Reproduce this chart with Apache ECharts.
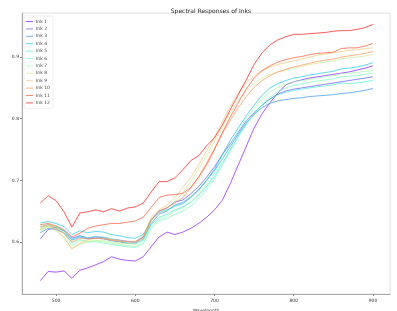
<!DOCTYPE html>
<html>
<head>
<meta charset="utf-8">
<script src="https://cdn.jsdelivr.net/npm/echarts@6/dist/echarts.min.js"></script>
<style>
  html, body { margin: 0; padding: 0; background: #fff; }
  #chart { width: 397px; height: 311px; }
</style>
</head>
<body>
<div id="chart"></div>
<script>
// wavelengths (nm)
var wavelengths = [480, 490, 500, 510, 520, 530, 540, 550, 560, 570, 580, 590, 600, 610, 620, 630, 640, 650, 660, 670, 680,
  690, 700, 710, 720, 730, 740, 750, 760, 770, 780, 790, 800, 810, 820, 830, 840, 850, 860, 870, 880, 890, 900];

var ink1 = [0.537, 0.552, 0.551, 0.553, 0.541, 0.554, 0.558, 0.563, 0.568, 0.576, 0.572, 0.570, 0.569, 0.576, 0.592, 0.608, 0.616, 0.612, 0.616, 0.622, 0.630,
  0.640, 0.652, 0.668, 0.695, 0.725, 0.755, 0.785, 0.808, 0.826, 0.842, 0.855, 0.860, 0.863, 0.866, 0.868, 0.870, 0.872, 0.874, 0.876, 0.879, 0.882, 0.886];
var ink2 = [0.605, 0.620, 0.624, 0.618, 0.606, 0.610, 0.606, 0.608, 0.607, 0.604, 0.603, 0.601, 0.600, 0.608, 0.636, 0.650, 0.655, 0.665, 0.668, 0.678, 0.690,
  0.705, 0.722, 0.742, 0.760, 0.778, 0.796, 0.810, 0.822, 0.832, 0.840, 0.845, 0.848, 0.850, 0.852, 0.854, 0.856, 0.858, 0.860, 0.862, 0.864, 0.866, 0.868];
var ink3 = [0.615, 0.622, 0.620, 0.615, 0.603, 0.608, 0.605, 0.606, 0.605, 0.602, 0.600, 0.598, 0.598, 0.605, 0.630, 0.645, 0.650, 0.660, 0.664, 0.673, 0.685,
  0.700, 0.716, 0.735, 0.755, 0.775, 0.793, 0.807, 0.818, 0.825, 0.829, 0.831, 0.833, 0.834, 0.836, 0.837, 0.838, 0.839, 0.841, 0.842, 0.844, 0.846, 0.849];
var ink4 = [0.631, 0.633, 0.630, 0.625, 0.612, 0.618, 0.615, 0.617, 0.616, 0.612, 0.610, 0.607, 0.606, 0.612, 0.635, 0.648, 0.652, 0.658, 0.662, 0.672, 0.684,
  0.700, 0.718, 0.742, 0.765, 0.785, 0.805, 0.822, 0.838, 0.850, 0.857, 0.862, 0.866, 0.868, 0.871, 0.873, 0.875, 0.877, 0.881, 0.882, 0.884, 0.887, 0.891];
var ink5 = [0.625, 0.628, 0.624, 0.618, 0.604, 0.610, 0.607, 0.609, 0.608, 0.605, 0.602, 0.598, 0.597, 0.603, 0.628, 0.640, 0.645, 0.652, 0.657, 0.665, 0.676,
  0.690, 0.707, 0.728, 0.750, 0.772, 0.792, 0.808, 0.822, 0.832, 0.839, 0.843, 0.846, 0.848, 0.850, 0.852, 0.853, 0.855, 0.858, 0.857, 0.858, 0.860, 0.862];
var ink6 = [0.620, 0.626, 0.622, 0.614, 0.598, 0.604, 0.600, 0.600, 0.598, 0.596, 0.594, 0.592, 0.591, 0.597, 0.622, 0.634, 0.638, 0.645, 0.650, 0.658, 0.670,
  0.685, 0.703, 0.725, 0.748, 0.770, 0.790, 0.808, 0.823, 0.835, 0.844, 0.850, 0.854, 0.857, 0.859, 0.861, 0.863, 0.865, 0.868, 0.869, 0.870, 0.872, 0.874];
var ink7 = [0.622, 0.628, 0.625, 0.615, 0.594, 0.603, 0.601, 0.602, 0.600, 0.598, 0.596, 0.594, 0.593, 0.600, 0.625, 0.637, 0.642, 0.650, 0.655, 0.664, 0.677,
  0.693, 0.712, 0.735, 0.758, 0.780, 0.800, 0.817, 0.832, 0.843, 0.851, 0.856, 0.860, 0.862, 0.864, 0.866, 0.868, 0.870, 0.873, 0.874, 0.875, 0.877, 0.878];
var ink8 = [0.618, 0.624, 0.618, 0.606, 0.590, 0.596, 0.600, 0.602, 0.602, 0.600, 0.598, 0.597, 0.597, 0.606, 0.634, 0.646, 0.654, 0.665, 0.680, 0.698, 0.718,
  0.740, 0.763, 0.787, 0.810, 0.830, 0.846, 0.858, 0.866, 0.872, 0.876, 0.879, 0.882, 0.885, 0.888, 0.890, 0.892, 0.894, 0.897, 0.899, 0.900, 0.902, 0.904];
var ink9 = [0.620, 0.626, 0.620, 0.608, 0.588, 0.598, 0.603, 0.606, 0.606, 0.604, 0.602, 0.601, 0.601, 0.610, 0.640, 0.652, 0.660, 0.672, 0.688, 0.705, 0.725,
  0.748, 0.770, 0.795, 0.820, 0.842, 0.858, 0.870, 0.878, 0.884, 0.888, 0.891, 0.894, 0.897, 0.900, 0.903, 0.905, 0.907, 0.909, 0.911, 0.912, 0.914, 0.915];
var ink10 = [0.624, 0.628, 0.622, 0.614, 0.600, 0.606, 0.605, 0.606, 0.605, 0.603, 0.601, 0.600, 0.600, 0.607, 0.635, 0.650, 0.656, 0.663, 0.672, 0.688, 0.706,
  0.728, 0.752, 0.776, 0.798, 0.818, 0.836, 0.851, 0.862, 0.870, 0.876, 0.880, 0.884, 0.887, 0.890, 0.893, 0.895, 0.897, 0.900, 0.902, 0.904, 0.906, 0.909];
var ink11 = [0.628, 0.630, 0.626, 0.620, 0.608, 0.614, 0.622, 0.626, 0.628, 0.630, 0.630, 0.632, 0.634, 0.640, 0.656, 0.672, 0.676, 0.677, 0.679, 0.688, 0.705,
  0.725, 0.750, 0.778, 0.803, 0.826, 0.848, 0.866, 0.878, 0.886, 0.892, 0.896, 0.899, 0.901, 0.904, 0.906, 0.907, 0.908, 0.914, 0.915, 0.915, 0.918, 0.922];
var ink12 = [0.663, 0.675, 0.667, 0.649, 0.624, 0.647, 0.649, 0.652, 0.649, 0.654, 0.650, 0.655, 0.657, 0.663, 0.681, 0.698, 0.698, 0.704, 0.717, 0.732, 0.740,
  0.756, 0.769, 0.790, 0.815, 0.839, 0.863, 0.888, 0.907, 0.920, 0.928, 0.933, 0.937, 0.937, 0.938, 0.939, 0.940, 0.942, 0.943, 0.943, 0.945, 0.948, 0.953];

var inkNames = ['Ink 1', 'Ink 2', 'Ink 3', 'Ink 4', 'Ink 5', 'Ink 6', 'Ink 7', 'Ink 8', 'Ink 9', 'Ink 10', 'Ink 11', 'Ink 12'];
var inkValues = [ink1, ink2, ink3, ink4, ink5, ink6, ink7, ink8, ink9, ink10, ink11, ink12];
// rainbow colormap, 12 steps
var inkColors = ['#8000ff', '#5148fc', '#238af5', '#0cc1e8', '#3ae8d7', '#68fcc1', '#97fca7', '#c5e88a', '#f3c16a', '#ff8a48', '#ff4824', '#ff0000'];

var xTicks = [500, 600, 700, 800, 900];
var yTicks = [0.6, 0.7, 0.8, 0.9];

var chart = echarts.init(document.getElementById('chart'), null, { renderer: 'canvas' });

var series = inkNames.map(function (name, i) {
  return {
    name: name,
    type: 'line',
    showSymbol: false,
    data: wavelengths.map(function (w, j) { return [w, inkValues[i][j]]; }),
    lineStyle: { width: 1, color: inkColors[i], opacity: 0.65 },
    itemStyle: { color: inkColors[i], opacity: 0.65 },
    emphasis: { disabled: true }
  };
});

var option = {
  animation: false,
  title: {
    text: 'Spectral Responses of Inks',
    left: 206,
    textAlign: 'center',
    top: 3,
    textStyle: { fontSize: 6, fontWeight: 'normal', color: '#222', fontFamily: 'DejaVu Sans' }
  },
  legend: {
    orient: 'vertical',
    left: 24,
    top: 16,
    itemWidth: 7,
    itemHeight: 1,
    itemGap: 2.4,
    padding: [3, 3, 3, 2],
    icon: 'rect',
    backgroundColor: '#fff',
    borderColor: '#e4e4e4',
    borderWidth: 0.6,
    borderRadius: 2,
    textStyle: { fontSize: 4.5, color: '#444', fontFamily: 'DejaVu Sans', padding: [0, 0, 0, -2] },
    data: inkNames
  },
  grid: {
    left: 22, right: 7, top: 13, bottom: 17,
    outerBoundsMode: 'none', containLabel: false,
    show: true, borderColor: '#d8d8d8', borderWidth: 0.8
  },
  xAxis: {
    type: 'value',
    min: 457,
    max: 921.5,
    name: 'Wavelength',
    nameLocation: 'middle',
    nameGap: 11,
    nameTextStyle: { fontSize: 4.5, color: '#333', fontFamily: 'DejaVu Sans' },
    axisLine: { show: true, lineStyle: { color: '#aaa', width: 1 } },
    axisTick: { show: true, length: 2, customValues: xTicks, lineStyle: { color: '#888' } },
    axisLabel: { fontSize: 4.5, color: '#333', margin: 4, customValues: xTicks, fontFamily: 'DejaVu Sans' },
    splitLine: { show: false }
  },
  yAxis: {
    type: 'value',
    min: 0.5155,
    max: 0.9716,
    name: 'Reflectance',
    nameLocation: 'middle',
    nameGap: 12,
    nameTextStyle: { fontSize: 4, color: '#333', fontFamily: 'DejaVu Sans' },
    axisLine: { show: true, lineStyle: { color: '#aaa', width: 1 } },
    axisTick: { show: true, length: 2, customValues: yTicks, lineStyle: { color: '#888' } },
    axisLabel: {
      fontSize: 4.5, color: '#333', margin: 3, customValues: yTicks, fontFamily: 'DejaVu Sans',
      formatter: function (v) { return v.toFixed(1); }
    },
    splitLine: { show: false }
  },
  series: series
};

chart.setOption(option);
</script>
</body>
</html>
